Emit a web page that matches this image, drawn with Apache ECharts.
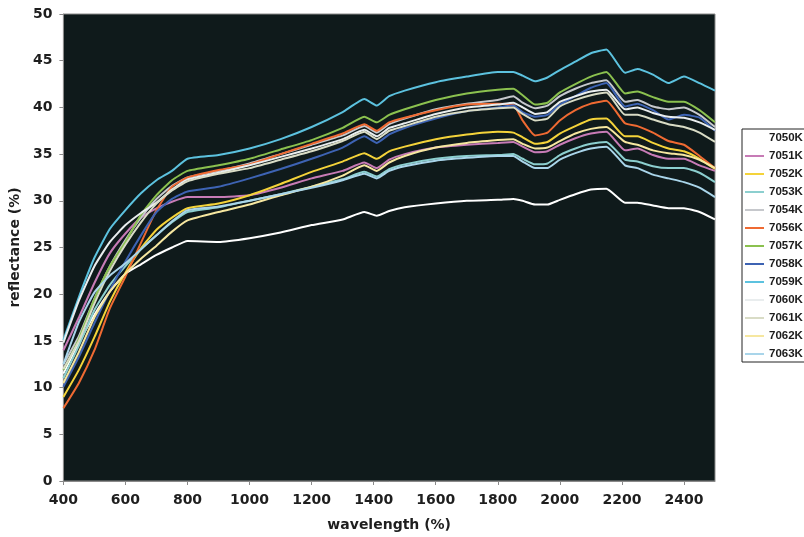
<!DOCTYPE html>
<html>
<head>
<meta charset="utf-8">
<script src="https://cdn.jsdelivr.net/npm/echarts@6/dist/echarts.min.js"></script>
<style>
html,body{margin:0;padding:0;background:#fff;}
#chart{width:804px;height:537px;}
</style>
</head>
<body>
<div id="chart"></div>
<script>
const wavelengths = [400,450,500,550,600,650,700,750,800,900,1000,1100,1200,1300,1370,1410,1450,1500,1600,1700,1800,1850,1880,1920,1960,2000,2050,2100,2150,2210,2250,2300,2350,2400,2450,2500];
const xTicks = [400,600,800,1000,1200,1400,1600,1800,2000,2200,2400];
const names = ['7050K','7051K','7052K','7053K','7054K','7056K','7057K','7058K','7059K','7060K','7061K','7062K','7063K'];

const s7050K = [11.5,14.8,17.8,20.3,22.2,23.2,24.2,25.0,25.7,25.6,26.0,26.6,27.4,28.0,28.8,28.4,28.9,29.3,29.7,30.0,30.1,30.2,30.0,29.6,29.6,30.1,30.7,31.2,31.3,29.8,29.8,29.5,29.2,29.2,28.8,28.0];
const s7051K = [14.0,17.5,21.2,24.4,26.5,28.2,29.2,29.9,30.4,30.4,30.6,31.4,32.4,33.2,34.1,33.5,34.4,35.0,35.7,36.0,36.2,36.3,35.8,35.2,35.3,36.0,36.7,37.2,37.4,35.4,35.6,34.9,34.5,34.5,33.8,33.2];
const s7052K = [9.0,11.9,15.4,19.2,22.3,24.9,26.9,28.2,29.2,29.7,30.6,31.8,33.1,34.2,35.1,34.5,35.3,35.8,36.6,37.1,37.4,37.3,36.8,36.1,36.3,37.2,38.0,38.7,38.8,36.9,36.9,36.2,35.6,35.3,34.5,33.4];
const s7053K = [11.0,14.5,18.3,21.0,23.0,24.8,26.3,27.7,28.8,29.3,30.0,30.7,31.5,32.3,33.1,32.6,33.4,33.9,34.5,34.8,34.9,35.0,34.5,33.9,34.0,34.9,35.6,36.1,36.3,34.4,34.2,33.7,33.5,33.5,33.0,32.0];
const s7054K = [12.5,15.5,19.5,23.0,25.8,28.2,30.2,31.6,32.5,33.2,34.0,35.0,36.0,37.0,38.0,37.3,38.2,38.8,39.8,40.4,40.8,41.2,40.5,39.9,40.2,41.2,42.0,42.6,42.9,40.6,40.8,40.1,39.8,40.0,39.2,37.9];
const s7056K = [7.8,10.5,14.0,18.5,21.9,25.5,29.0,31.5,32.5,33.3,33.9,35.0,36.1,37.2,38.2,37.5,38.4,38.9,39.7,40.3,40.4,40.3,38.6,37.0,37.3,38.6,39.7,40.4,40.7,38.3,38.0,37.3,36.4,36.0,34.8,33.5];
const s7057K = [11.9,15.2,19.5,23.0,25.6,28.5,30.6,32.2,33.2,33.8,34.5,35.5,36.5,37.8,39.0,38.4,39.2,39.8,40.8,41.5,41.9,42.0,41.3,40.3,40.5,41.6,42.5,43.3,43.8,41.5,41.7,41.1,40.6,40.6,39.7,38.4];
const s7058K = [10.1,13.3,16.9,20.4,23.5,26.3,28.8,30.2,31.0,31.5,32.4,33.4,34.5,35.7,36.9,36.2,37.1,37.8,38.8,39.6,40.0,40.2,39.5,39.0,39.2,40.3,41.2,42.1,42.6,40.1,40.4,39.7,38.7,39.2,38.9,37.5];
const s7059K = [15.1,19.7,23.9,27.0,29.0,30.8,32.2,33.2,34.5,34.9,35.6,36.6,37.9,39.5,40.9,40.2,41.2,41.8,42.7,43.3,43.8,43.8,43.4,42.8,43.2,44.0,44.9,45.8,46.2,43.7,44.1,43.5,42.6,43.3,42.6,41.8];
const s7060K = [14.8,19.3,23.0,25.6,27.4,28.7,29.8,31.2,32.3,33.0,33.8,34.7,35.6,36.6,37.6,36.9,37.8,38.3,39.3,40.0,40.3,40.5,40.0,39.3,39.5,40.6,41.2,41.7,41.9,39.8,40.0,39.4,39.0,38.9,38.4,37.6];
const s7061K = [12.0,15.0,19.0,22.5,25.3,27.7,29.7,31.1,32.1,32.9,33.5,34.4,35.3,36.4,37.4,36.6,37.5,38.0,39.0,39.6,39.9,40.0,39.3,38.6,38.8,40.1,40.8,41.3,41.6,39.2,39.2,38.7,38.2,37.9,37.3,36.3];
const s7062K = [10.5,13.8,17.5,20.3,22.2,23.8,25.2,26.7,27.9,28.8,29.6,30.6,31.5,32.7,33.8,33.2,34.1,34.8,35.7,36.2,36.5,36.6,36.1,35.6,35.7,36.4,37.2,37.7,37.9,36.3,36.0,35.4,35.1,34.9,34.4,33.5];
const s7063K = [12.5,17.0,20.2,22.0,23.3,24.8,26.3,27.8,29.0,29.4,30.0,30.7,31.4,32.2,32.9,32.4,33.2,33.7,34.3,34.6,34.8,34.8,34.2,33.5,33.5,34.4,35.1,35.6,35.8,33.8,33.5,32.8,32.4,32.0,31.4,30.4];

const seriesValues = [s7050K,s7051K,s7052K,s7053K,s7054K,s7056K,s7057K,s7058K,s7059K,s7060K,s7061K,s7062K,s7063K];
const colors = ['#ffffff','#c77bb6','#f4d33a','#8ccfcf','#c6c8cc','#ef6a32','#8bc14f','#3d63b3','#5cc2df','#e9edee','#d9dcc6','#f6e7a0','#a9d5ea'];

const chart = echarts.init(document.getElementById('chart'), null, {renderer:'canvas'});
const axisFont = {fontFamily:'DejaVu Sans', fontWeight:'bold', fontSize:14, color:'#1e1e1e'};

chart.setOption({
  animation:false,
  backgroundColor:'#ffffff',
  color: colors,
  grid:{left:60, right:89, top:14, bottom:56, show:true, backgroundColor:'#0f1a1b', borderColor:'#8a8a8a', borderWidth:1},
  legend:{
    orient:'vertical', left:742, top:129,
    data:names,
    icon:'rect',
    itemWidth:19, itemHeight:2, itemGap:6,
    padding:[3,2,2,3],
    borderColor:'#222', borderWidth:1,
    backgroundColor:'#fff',
    textStyle:{fontFamily:'Liberation Sans', fontWeight:'bold', fontSize:11.5, lineHeight:12, color:'#1a1a1a'}
  },
  xAxis:{
    type:'value', min:400, max:2500, interval:200,
    name:'wavelength (%)', nameLocation:'middle', nameGap:37,
    nameTextStyle:axisFont,
    axisLine:{show:true, lineStyle:{color:'#8a8a8a', width:1}},
    axisTick:{show:true, length:4, lineStyle:{color:'#8a8a8a'}, customValues:xTicks},
    axisLabel:Object.assign({margin:12, customValues:xTicks, formatter:function(v){return String(v);}}, axisFont),
    splitLine:{show:false}
  },
  yAxis:{
    type:'value', min:0, max:50, interval:5,
    name:'reflectance (%)', nameLocation:'middle', nameGap:36, nameRotate:90,
    nameTextStyle:axisFont,
    axisLine:{show:true, lineStyle:{color:'#8a8a8a', width:1}},
    axisTick:{show:true, length:4, lineStyle:{color:'#8a8a8a'}},
    axisLabel:Object.assign({margin:11, formatter:function(v){return String(v);}}, axisFont),
    splitLine:{show:false}
  },
  series: names.map((n,i)=>({
    name:n, type:'line', symbol:'none', smooth:0.15,
    lineStyle:{width:2, color:colors[i]},
    itemStyle:{color:colors[i]},
    data: wavelengths.map((w,j)=>[w, seriesValues[i][j]])
  }))
});
</script>
</body>
</html>
